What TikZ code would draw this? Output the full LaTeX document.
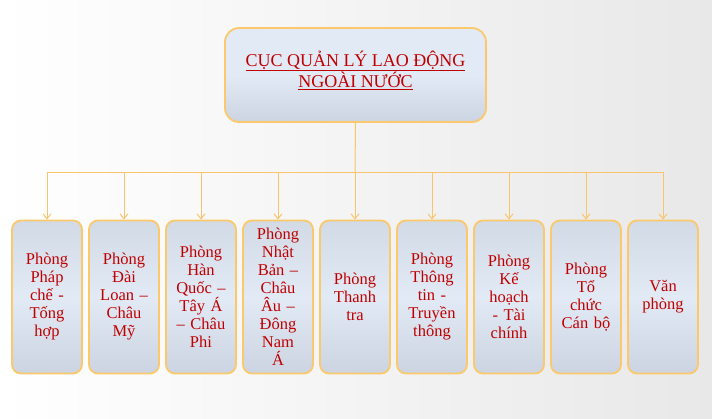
\documentclass[tikz,border=0pt]{standalone}
\usepackage{fontspec}
\setmainfont{Liberation Serif}
\usetikzlibrary{arrows.meta}
\definecolor{txtred}{HTML}{C00000}
\definecolor{boxedge}{HTML}{FBC96B}
\definecolor{linecol}{HTML}{F9C56A}
\definecolor{boxmid}{HTML}{E2EAF6}
\definecolor{boxtop}{HTML}{D2DAE6}
\definecolor{boxbot}{HTML}{CCD4E1}
\tikzset{
  unitbox/.style={draw=boxedge, line width=1.8pt, rounded corners=9pt,
    top color=boxtop, bottom color=boxbot, middle color=boxmid,
    minimum width=70pt, minimum height=153pt, text width=68pt, align=center,
    text=txtred, font=\fontsize{16.5}{18}\selectfont, inner sep=0pt},
  headbox/.style={draw=boxedge, line width=1.8pt, rounded corners=14pt,
    top color=boxmid, bottom color=boxbot, middle color=boxmid,
    minimum width=261pt, minimum height=94pt, align=center,
    text=txtred, font=\fontsize{18}{20}\selectfont, inner sep=0pt},
  conn/.style={draw=linecol, line width=1pt},
  arr/.style={conn, -{Straight Barb[length=5pt,width=8pt]}}
}
\begin{document}
\begin{tikzpicture}[x=1pt,y=-1pt]
\shade[left color=white, right color=black!9] (0,0) rectangle (712,418);
\useasboundingbox (0,0) rectangle (712,418);
\node[headbox] (head) at (355.5,75) {\underline{CỤC QUẢN LÝ LAO ĐỘNG}\\\underline{NGOÀI NƯỚC}\\[-8pt]};
\node[unitbox] (b1) at (47,297) {Phòng\\Pháp\\chế -\\Tống\\hợp};
\node[unitbox] (b2) at (124,297) {Phòng\\Đài\\Loan –\\Châu\\Mỹ};
\node[unitbox] (b3) at (201,297) {Phòng\\Hàn\\Quốc –\\Tây Á\\– Châu\\Phi\\[14pt]};
\node[unitbox] (b4) at (278,297) {Phòng\\Nhật\\Bản –\\Châu\\Âu –\\Đông\\Nam\\Á};
\node[unitbox] (b5) at (355,297) {Phòng\\Thanh\\tra\\[14pt]};
\node[unitbox] (b6) at (432,297) {Phòng\\Thông\\tin -\\Truyền\\thông};
\node[unitbox] (b7) at (509,297) {Phòng\\Kế\\hoạch\\- Tài\\chính};
\node[unitbox] (b8) at (586,297) {Phòng\\Tổ\\chức\\Cán bộ\\[14pt]};
\node[unitbox] (b9) at (663,297) {Văn\\phòng\\[14pt]};
\coordinate (bus) at (355,172);
\draw[conn] (head.south) -- (bus);
\foreach \i in {1,...,9}{
  \draw[arr] (bus) -| (b\i.north);
}
\end{tikzpicture}
\end{document}
